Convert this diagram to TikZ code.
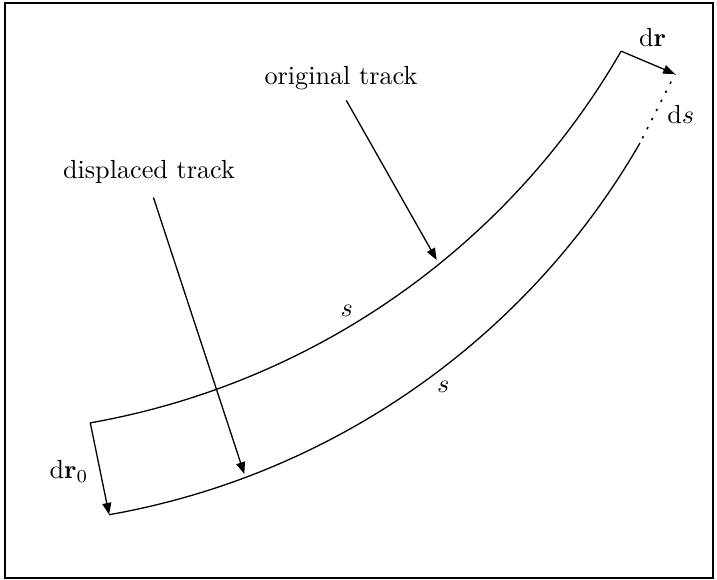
\documentclass[tikz,border=0pt]{standalone}
\usetikzlibrary{arrows.meta}
\begin{document}
\begin{tikzpicture}[x=0.382pt,y=0.382pt,line width=0.5pt,
  pointer/.style={-{Triangle[length=4.5pt,width=3.4pt]}},
  lbl/.style={inner sep=0pt,anchor=base},
  mlbl/.style={inner sep=0pt}]
\useasboundingbox (0,0) rectangle (717,-580);
\draw[line width=0.45pt] (5,-3) rectangle (713,-578);
% centres of the two tracks
\coordinate (Cu) at (-42.86,332.2);
\coordinate (Cl) at (-24.0,240.35);
\coordinate (u0) at ([shift={(-80:292.88pt)}]Cu);
\coordinate (u1) at ([shift={(-30:292.88pt)}]Cu);
\coordinate (l0) at ([shift={(-80:292.88pt)}]Cl);
\coordinate (l1) at ([shift={(-30:292.88pt)}]Cl);
\coordinate (drtip) at (675,-74);
\coordinate (ot) at (436.7,-260);
\coordinate (dt) at (244.3,-474);
% tracks
\draw (u0) arc[start angle=-80,end angle=-30,radius=292.88pt];
\draw (l0) arc[start angle=-80,end angle=-30,radius=292.88pt];
\draw[line width=0.6pt,dash pattern=on 0.9pt off 3pt,shorten <=2pt] (l1) -- (drtip);
% displacements
\draw[pointer] (u1) -- (drtip);
\draw[pointer] (u0) -- (l0);
% labels
\node[lbl] (orig) at (341,-85) {original track};
\node[lbl] (disp) at (149,-178.3) {displaced track};
\draw[pointer,shorten <=4.1pt] (orig.south) -- (ot);
\draw[pointer,shorten <=5.4pt] (disp.south) -- (dt);
\node[mlbl] (su) at (346.7,-310.7) {$s$};
\node[mlbl] (sl) at (443.3,-387.3) {$s$};
\node[lbl] (dr) at (652.5,-47) {$\mathrm{d}\mathbf{r}$};
\node[lbl] (ds) at (680.8,-123.3) {$\mathrm{d}s$};
\node[lbl] (dr0) at (69,-478.3) {$\mathrm{d}\mathbf{r}_0$};
\end{tikzpicture}
\end{document}
